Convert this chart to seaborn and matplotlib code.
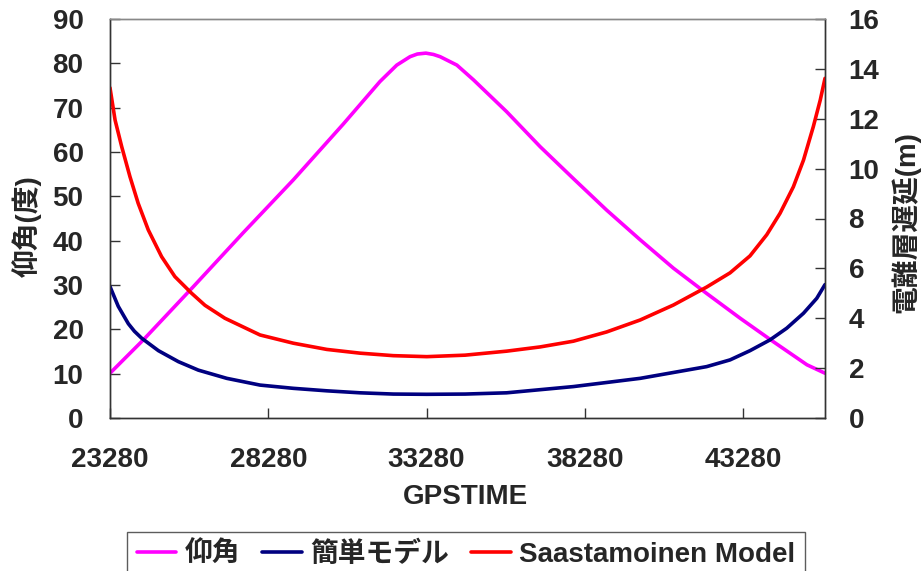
import matplotlib
matplotlib.use('Agg')
import matplotlib.pyplot as plt
import seaborn as sns

# ---- data ----
elev_time = [23280, 24330, 25910, 27490, 29070, 30650, 31810, 32340, 32760, 32990,
             33260, 33500, 33710, 34240, 34760, 35810, 36870, 37920, 38970, 40030,
             41080, 42130, 43190, 44240, 45300, 45870]
elev_deg = [10.1, 17.6, 29.6, 41.8, 53.7, 66.3, 75.9, 79.6, 81.5, 82.1,
            82.3, 82.0, 81.5, 79.6, 76.3, 69.1, 61.2, 54.0, 46.9, 40.2,
            33.8, 28.1, 22.5, 17.2, 12.0, 10.1]

simple_time = [23280, 23540, 23860, 24050, 24280, 24810, 25440, 26070, 26970, 28020,
               29070, 30130, 31180, 32230, 33290, 34500, 35810, 37920, 40030, 42130,
               42870, 43500, 44130, 44660, 45190, 45610, 45870]
simple_m = [5.27, 4.48, 3.78, 3.48, 3.20, 2.70, 2.26, 1.92, 1.59, 1.32,
            1.19, 1.09, 1.01, 0.96, 0.95, 0.96, 1.01, 1.26, 1.59, 2.06,
            2.33, 2.70, 3.13, 3.60, 4.20, 4.80, 5.35]

saas_time = [23280, 23440, 23650, 23910, 24170, 24490, 24910, 25330, 25860, 26280,
             26910, 28020, 29070, 30130, 31180, 32230, 33290, 34500, 35810, 36870,
             37920, 38970, 40030, 41080, 42130, 42870, 43500, 44030, 44450, 44870,
             45190, 45500, 45720, 45870]
saas_m = [13.24, 11.95, 10.88, 9.68, 8.61, 7.54, 6.47, 5.67, 5.00, 4.52,
          4.00, 3.33, 3.00, 2.75, 2.60, 2.50, 2.46, 2.52, 2.68, 2.85,
          3.08, 3.45, 3.93, 4.53, 5.25, 5.82, 6.50, 7.35, 8.21, 9.27,
          10.34, 11.68, 12.75, 13.62]

x_ticks = [23280, 28280, 33280, 38280, 43280]
left_ticks = [0, 10, 20, 30, 40, 50, 60, 70, 80, 90]
right_ticks = [0, 2, 4, 6, 8, 10, 12, 14, 16]

series_labels = ['仰角', '簡単モデル', 'Saastamoinen Model']
x_label = 'GPSTIME'
left_label = '仰角(度)'
right_label = '電離層遅延(m)'

# ---- style ----
sns.set_style('white')
plt.rcParams['font.family'] = ['Liberation Sans', 'Noto Sans CJK JP', 'DejaVu Sans']
plt.rcParams['font.weight'] = 'bold'
plt.rcParams['axes.unicode_minus'] = False

FS = 20
fig = plt.figure(figsize=(9.21, 5.71), dpi=100)
ax = fig.add_axes([110 / 921, 1 - 418 / 571, 715 / 921, 399 / 571])
ax2 = ax.twinx()

lw = 2.6
sns.lineplot(x=elev_time, y=elev_deg, ax=ax, color='#FF00FF', lw=lw, estimator=None)
sns.lineplot(x=simple_time, y=simple_m, ax=ax2, color='#000080', lw=lw, estimator=None)
sns.lineplot(x=saas_time, y=saas_m, ax=ax2, color='#FF0000', lw=lw, estimator=None)

for a in (ax, ax2):
    if a.get_legend() is not None:
        a.get_legend().remove()

ax.set_xlim(23280, 45870)
ax.set_ylim(0, 90)
ax2.set_ylim(0, 16)
ax.set_xticks(x_ticks)
ax.set_xticklabels([str(t) for t in x_ticks])
ax.set_yticks(left_ticks)
ax2.set_yticks(right_ticks)

ax.tick_params(axis='x', direction='in', length=7, width=1, color='#333333',
               pad=21, labelsize=FS, bottom=True)
ax.tick_params(axis='y', direction='in', length=7, width=1, color='#333333',
               pad=19, labelsize=FS, left=True)
ax2.tick_params(axis='y', direction='in', length=7, width=1, color='#333333',
                pad=17, labelsize=FS, right=True)

for a in (ax, ax2):
    for name, sp in a.spines.items():
        sp.set_visible(True)
        sp.set_linewidth(1.0)
        sp.set_color('#888888' if name == 'top' else '#333333')

ax.set_xlabel(x_label, fontsize=FS, fontweight='bold', va='center')
ax.xaxis.set_label_coords(0.497, -0.198)
ax.set_ylabel(left_label, fontsize=FS, fontweight='bold', va='center', ha='center')
ax.yaxis.set_label_coords(-0.116, 0.48)
ax2.set_ylabel(right_label, fontsize=FS, fontweight='bold', va='center', ha='center',
               rotation=90)
ax2.yaxis.set_label_coords(1.113, 0.49)

ax.grid(False)
ax2.grid(False)

handles = [ax.lines[0], ax2.lines[0], ax2.lines[1]]
leg = fig.legend(handles, series_labels, loc='upper center',
                 bbox_to_anchor=(466 / 921, 1 - 532 / 571), ncol=3,
                 frameon=True, fancybox=False, edgecolor='#333333',
                 handlelength=1.43, handletextpad=0.3, columnspacing=0.8,
                 borderpad=0.35, borderaxespad=0,
                 prop={'size': FS, 'weight': 'bold'})
leg.get_frame().set_linewidth(1.0)

fig.savefig('out.png', dpi=100)
